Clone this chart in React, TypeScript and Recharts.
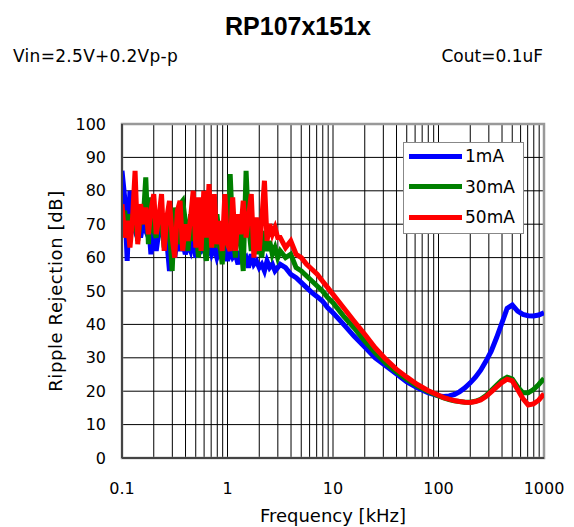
import { CartesianGrid, Label, Legend, Line, LineChart, ReferenceArea, XAxis, YAxis } from "recharts";

// frequency points in kHz
const freqs = [
  0.1, 0.106, 0.112, 0.119, 0.126, 0.133, 0.141, 0.15, 0.158, 0.168,
  0.178, 0.188, 0.2, 0.211, 0.224, 0.237, 0.251, 0.266, 0.282, 0.299,
  0.316, 0.335, 0.355, 0.376, 0.398, 0.422, 0.447, 0.473, 0.501, 0.531,
  0.562, 0.596, 0.631, 0.668, 0.708, 0.75, 0.794, 0.841, 0.891, 0.944,
  1, 1.06, 1.12, 1.19, 1.26, 1.33, 1.41, 1.5, 1.58, 1.68,
  1.78, 1.88, 2, 2.11, 2.24, 2.37, 2.51, 2.66, 2.82, 2.99,
  3.16, 3.55, 3.98, 4.47, 5.01, 5.62, 6.31, 7.08, 7.94, 8.91,
  10, 12.6, 15.8, 20, 25.1, 31.6, 39.8, 50.1, 63.1, 79.4,
  100, 112, 126, 141, 158, 178, 200, 224, 251, 282,
  316, 355, 398, 447, 501, 562, 631, 708, 794, 891,
  1000,
];

const rej1mA = [
  86, 78, 59, 80, 70, 68, 72, 66, 70, 68,
  71, 61, 69, 62, 68, 67, 70, 65, 56, 64,
  60, 66, 62, 65, 61, 64, 62, 66, 60, 65,
  62, 63, 60, 64, 61, 63, 60, 62, 61, 63,
  59, 62, 60, 61, 58, 62, 59, 60, 57, 61,
  58, 59, 57, 58, 56, 59, 57, 58, 56, 57,
  58, 57, 55, 54, 52.5, 51, 49.5, 48.3, 47, 45,
  43.5, 40, 36.5, 33.2, 30, 27.6, 25.2, 22.8, 21, 19.6,
  18.6, 18.4, 18.6, 19, 19.8, 21, 22.5, 24.2, 26.3, 29,
  32, 36, 40.3, 44.8, 45.8, 44, 43, 42.6, 42.5, 42.8,
  43.5,
];

const rej30mA = [
  70, 74, 66, 73, 68, 72, 65, 72, 70, 84,
  64, 78, 68, 66, 74, 70, 63, 72, 68, 56,
  75, 64, 76, 77, 71, 62, 73, 65, 70, 60,
  72, 64, 59, 71, 67, 63, 73, 65, 58, 70,
  64, 85, 68, 60, 73, 66, 56, 86, 70, 62,
  67, 61, 69, 60, 68, 62, 65, 61, 63, 60,
  62, 60, 61, 57, 56, 54.5, 53, 51.5, 50, 48,
  46.5, 42.5, 39, 35, 31.5, 28.4, 25.8, 23.5, 21.5, 19.9,
  18.6, 18, 17.5, 17.1, 16.9, 16.7, 16.7, 17, 17.6, 18.7,
  20.2, 21.8, 23.3, 24.2, 23.6, 21.3, 19.5, 19.5, 20.5, 22,
  23.8,
];

const rej50mA = [
  76, 66, 71, 63, 72, 86, 64, 76, 70, 75,
  67, 74, 79, 67, 72, 79, 62, 72, 77, 66,
  60, 74, 77, 62, 70, 65, 72, 80, 63, 78,
  62, 80, 66, 82, 63, 79, 64, 71, 62, 79,
  64, 62, 78, 62, 73, 67, 77, 66, 72, 79,
  60, 72, 62, 71, 83, 65, 70, 67, 69, 66,
  66, 63, 65, 61, 60, 58, 56.5, 55, 53, 51,
  49, 45, 41, 37, 33, 29.6, 26.6, 24.2, 22, 20.2,
  18.8, 18.1, 17.6, 17.2, 16.9, 16.7, 16.6, 16.9, 17.4, 18.4,
  19.8, 21.2, 22.6, 23.6, 23.1, 20.5, 17.8, 15.9, 16.2, 17.3,
  19.2,
];

const gridFreqs = [
  0.1, 0.2, 0.3, 0.4, 0.5, 0.6, 0.7, 0.8, 0.9,
  1, 2, 3, 4, 5, 6, 7, 8, 9,
  10, 20, 30, 40, 50, 60, 70, 80, 90,
  100, 200, 300, 400, 500, 600, 700, 800, 900,
  1000,
];
const decadeLabels = [0.1, 1, 10, 100, 1000];
const yTicks = [0, 10, 20, 30, 40, 50, 60, 70, 80, 90, 100];

const data = freqs.map((f, i) => ({ f, a1: rej1mA[i], a30: rej30mA[i], a50: rej50mA[i] }));

function FreqTick({ x, y, payload }: any) {
  if (!decadeLabels.includes(payload.value)) return <g />;
  return (
    <text x={x} y={y + 34} textAnchor="middle" fontSize={16} fill="#000">
      {payload.value}
    </text>
  );
}

function LegendBox({ payload }: any) {
  return (
    <div style={{ boxSizing: "border-box", width: 121, height: 92, border: "1.5px solid #888", background: "#fff", position: "relative" }}>
      {(payload || []).map((p: any, i: number) => (
        <div key={p.value} style={{ position: "absolute", left: 5, top: 5 + i * 30.5, height: 16, display: "flex", alignItems: "center" }}>
          <div style={{ width: 53, height: 5, background: p.color }} />
          <span style={{ marginLeft: 3, fontSize: 17, lineHeight: "16px", color: "#000" }}>{p.value}</span>
        </div>
      ))}
    </div>
  );
}

export default function App() {
  return (
    <div style={{ position: "absolute", left: 0, top: 0, width: 574, height: 527, background: "#fff", fontFamily: "'DejaVu Sans', sans-serif" }}>
      <svg width={574} height={527} style={{ position: "absolute", left: 0, top: 0 }}>
        <text x={298} y={35} textAnchor="middle" fontFamily="'Liberation Sans', Arial, sans-serif" fontWeight="bold" fontSize={25}>
          RP107x151x
        </text>
        <text x={13} y={62} fontSize={17} letterSpacing={0.3}>Vin=2.5V+0.2Vp-p</text>
        <text x={543} y={62} textAnchor="end" fontSize={17}>Cout=0.1uF</text>
      </svg>
      <LineChart width={574} height={527} data={data} margin={{ top: 124, right: 30, bottom: 0, left: 0 }}>
        <CartesianGrid stroke="#000" strokeWidth={1} />
        <ReferenceArea x1={0.1} x2={1000} y1={0} y2={100} fill="none" stroke="#999" strokeWidth={2.5} />
        <XAxis
          dataKey="f"
          type="number"
          scale="log"
          domain={[0.1, 1000]}
          ticks={gridFreqs}
          interval={0}
          tick={<FreqTick />}
          tickLine={false}
          tickSize={0}
          axisLine={{ stroke: "#444", strokeWidth: 2 }}
          height={69}
          allowDataOverflow
        >
          <Label
            content={({ viewBox }: any) => (
              <text x={viewBox.x + viewBox.width / 2} y={viewBox.y + 64} textAnchor="middle" fontSize={18} fill="#000">
                Frequency [kHz]
              </text>
            )}
          />
        </XAxis>
        <YAxis
          type="number"
          domain={[0, 100]}
          ticks={yTicks}
          interval={0}
          width={122}
          tickLine={false}
          tickSize={0}
          tickMargin={16}
          tick={{ fill: "#000", fontSize: 16 }}
          axisLine={{ stroke: "#444", strokeWidth: 2 }}
        >
          <Label
            content={({ viewBox }: any) => {
              const cx = 55;
              const cy = viewBox.y + viewBox.height / 2;
              return (
                <text x={cx} y={cy} transform={`rotate(-90, ${cx}, ${cy})`} textAnchor="middle" dominantBaseline="central" fontSize={18} letterSpacing={0.6} fill="#000">
                  Ripple Rejection [dB]
                </text>
              );
            }}
          />
        </YAxis>
        <Line dataKey="a1" name="1mA" stroke="#0000ff" strokeWidth={5} dot={false} activeDot={false} isAnimationActive={false} />
        <Line dataKey="a30" name="30mA" stroke="#008000" strokeWidth={5} dot={false} activeDot={false} isAnimationActive={false} />
        <Line dataKey="a50" name="50mA" stroke="#ff0000" strokeWidth={5} dot={false} activeDot={false} isAnimationActive={false} />
        <Legend
          layout="horizontal"
          verticalAlign="middle"
          align="center"
          content={<LegendBox />}
          wrapperStyle={{ left: 403, top: 142, width: 121, height: 92 }}
        />
      </LineChart>
    </div>
  );
}
